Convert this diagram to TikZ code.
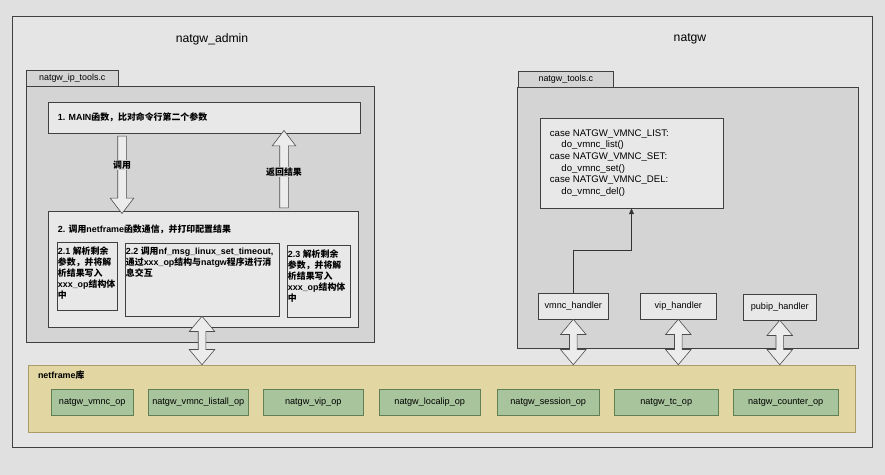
\documentclass[tikz,border=0pt]{standalone}
\usepackage{fontspec}
\setmainfont{Liberation Sans}
\newfontfamily\zh{Noto Sans CJK SC}
\usetikzlibrary{positioning,fit,calc,shapes.arrows,arrows.meta}

\definecolor{pagegray}{RGB}{224,224,225}
\definecolor{outerfill}{RGB}{229,229,230}
\definecolor{panegray}{RGB}{212,212,213}
\definecolor{boxgray}{RGB}{232,232,233}
\definecolor{libfill}{RGB}{226,214,162}
\definecolor{libline}{RGB}{172,156,108}
\definecolor{opfill}{RGB}{168,196,156}
\definecolor{opline}{RGB}{96,128,84}
\definecolor{arrowfill}{RGB}{236,236,237}

\tikzset{
  frame/.style={draw=black!75, line width=0.5pt, inner sep=0pt},
  pane/.style={frame, fill=panegray},
  plain/.style={frame, fill=boxgray, font=\fontsize{7.8}{9}\selectfont},
  tabbox/.style={frame, fill=panegray, anchor=north west, minimum height=0.48cm, font=\fontsize{7.6}{9}\selectfont},
  handler/.style={plain, anchor=north west, minimum height=0.77cm},
  zhtext/.style={font=\fontsize{7.6}{9.4}\selectfont\bfseries, align=left, inner sep=0pt},
  opbox/.style={draw=opline, fill=opfill, inner sep=0pt, anchor=north west, minimum height=0.78cm, font=\fontsize{7.8}{9}\selectfont},
  blk/.style={draw=black!70, fill=arrowfill, line width=0.5pt, single arrow, inner xsep=0pt, inner ysep=0.12cm,
    minimum width=0pt, single arrow head extend=0.225cm, single arrow tip angle=75},
  dblblk/.style={draw=black!70, fill=arrowfill, line width=0.5pt, double arrow, inner xsep=0pt, inner ysep=0.105cm,
    minimum width=0pt, double arrow head extend=0.27cm, double arrow tip angle=80, rotate=90},
}

\begin{document}
\begin{tikzpicture}[x=0.03cm, y=-0.03cm]
\fill[pagegray] (0,0) rectangle (885,475);
\useasboundingbox (0,0) rectangle (885,475);

% outer frame and titles
\node[frame, fill=outerfill, fit={(12,16) (872,447)}] (outer) {};
\node[font=\fontsize{10.4}{12}\selectfont] (admintitle) at (212,39) {natgw\_admin};
\node[font=\fontsize{10.4}{12}\selectfont] (gwtitle) at (690,39) {natgw};

% natgw_ip_tools.c
\node[tabbox, minimum width=2.76cm] (admintab) at (26,70) {natgw\_ip\_tools.c};
\node[pane, fit={(26,86) (374,342)}] (adminpane) {};
\node[plain, fit={(48,102) (360,133)}] (main) {};
\node[zhtext, right=0.3cm of main.west] (maintxt) {1. MAIN{\zh 函数，比对命令行第二个参数}};
\node[plain, fit={(48,211) (358,327)}] (box2) {};
\node[zhtext, anchor=west] (box2txt) at ($(box2.north west)+(10,19)$) {2. {\zh 调用}netframe{\zh 函数通信，并打印配置结果}};
\node[plain, fit={(57,242) (117,310)}] (sub21) {};
\node[plain, fit={(125,243) (279,316)}] (sub22) {};
\node[plain, fit={(287,245) (350,317)}] (sub23) {};
\node[zhtext, anchor=north west] (sub21txt) at ($(sub21.north west)+(1,5)$)
  {2.1 {\zh 解析剩余}\\{\zh 参数，并将解}\\{\zh 析结果写入}\\xxx\_op{\zh 结构体}\\{\zh 中}};
\node[zhtext, anchor=north west] (sub22txt) at ($(sub22.north west)+(1,4)$)
  {2.2 {\zh 调用}nf\_msg\_linux\_set\_timeout,\\{\zh 通过}xxx\_op{\zh 结构与}natgw{\zh 程序进行消}\\{\zh 息交互}};
\node[zhtext, anchor=north west] (sub23txt) at ($(sub23.north west)+(1,5)$)
  {2.3 {\zh 解析剩余}\\{\zh 参数，并将解}\\{\zh 析结果写入}\\xxx\_op{\zh 结构体}\\{\zh 中}};

% call / return
\coordinate (callx) at (122,0);
\coordinate (retx) at (284,0);
\path let \p1=(main.south), \p2=(box2.north) in
  node[blk, rotate=-90, minimum height={\y1-\y2}] (callarr) at ($(callx |- main.south)!.5!(callx |- box2.north)$) {};
\path let \p1=(main.south), \p2=(box2.north) in
  node[blk, rotate=90, minimum height={\y1-\y2}] (retarr) at ($(retx |- main.south)!.5!(retx |- box2.north)$) {};
\node[zhtext, fill=panegray, inner sep=1pt] (calltxt) at ($(callarr.center)+(0,-7)$) {\zh 调用};
\node[zhtext, fill=panegray, inner sep=1pt] (rettxt) at (retarr.center) {\zh 返回结果};

% natgw_tools.c
\node[tabbox, minimum width=2.85cm] (gwtab) at (518,71) {natgw\_tools.c};
\node[pane, fit={(517,87) (858,348)}] (gwpane) {};
\node[plain, fit={(540,118) (723,208)}] (code) {};
\node[align=left, inner sep=0pt, font=\fontsize{8.2}{10}\selectfont, right=0.3cm of code.west] (codetxt)
  {case NATGW\_VMNC\_LIST:\\ \hspace*{1.2em}do\_vmnc\_list()\\case NATGW\_VMNC\_SET:\\ \hspace*{1.2em}do\_vmnc\_set()\\case NATGW\_VMNC\_DEL:\\ \hspace*{1.2em}do\_vmnc\_del()};
\node[handler, minimum width=2.1cm] (vmnc) at (538,293) {vmnc\_handler};
\node[handler, minimum width=2.28cm] (vip) at (640,293) {vip\_handler};
\node[handler, minimum width=2.19cm] (pubip) at (743,294) {pubip\_handler};
\draw[black!80, -{Triangle[length=5pt,width=4.2pt]}] (vmnc.north) -- ++(0,-43) -| (code.south);

% netframe lib
\node[draw=libline, fill=libfill, inner sep=0pt, fit={(28,365) (855,432)}] (netf) {};
\node[zhtext, anchor=west] (netftxt) at ($(netf.north west)+(10,10)$) {netframe{\zh 库}};
\node[opbox, minimum width=2.46cm] (vmncop) at (51,389) {natgw\_vmnc\_op};
\node[opbox, minimum width=3.0cm] (listallop) at (148,389) {natgw\_vmnc\_listall\_op};
\node[opbox, minimum width=3.0cm] (vipop) at (263,389) {natgw\_vip\_op};
\node[opbox, minimum width=3.03cm] (localipop) at (379,389) {natgw\_localip\_op};
\node[opbox, minimum width=3.06cm] (sessionop) at (497,389) {natgw\_session\_op};
\node[opbox, minimum width=3.12cm] (tcop) at (614,389) {natgw\_tc\_op};
\node[opbox, minimum width=3.15cm] (counterop) at (733,389) {natgw\_counter\_op};

% links to netframe
\path let \p1=(sub22.south), \p2=(netf.north) in
  node[dblblk, minimum height={\y1-\y2}] (linkarr) at ($(sub22.south)!.5!(sub22.south |- netf.north)$) {};
\path let \p1=(vmnc.south), \p2=(netf.north) in
  node[dblblk, minimum height={\y1-\y2}] (vmncarr) at ($(vmnc.south)!.5!(vmnc.south |- netf.north)$) {};
\path let \p1=(vip.south), \p2=(netf.north) in
  node[dblblk, minimum height={\y1-\y2}] (viparr) at ($(vip.south)!.5!(vip.south |- netf.north)$) {};
\path let \p1=(pubip.south), \p2=(netf.north) in
  node[dblblk, minimum height={\y1-\y2}] (pubiparr) at ($(pubip.south)!.5!(pubip.south |- netf.north)$) {};
\end{tikzpicture}
\end{document}
